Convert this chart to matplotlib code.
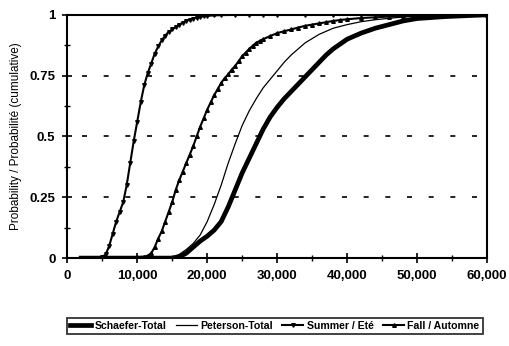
import matplotlib.pyplot as plt
from matplotlib.ticker import MultipleLocator, FuncFormatter

plt.rcParams['font.family'] = ['Liberation Sans', 'DejaVu Sans']

# Cumulative probability curves (x in units, y = cumulative probability)
schaefer_x = [2000, 15000, 16000, 17000, 18000, 19000, 20000, 21000, 22000, 23000,
              24000, 25000, 26000, 27000, 28000, 29000, 30000, 31000, 32000, 33000,
              34000, 35000, 36000, 37000, 38000, 39000, 40000, 42000, 44000, 46000,
              48000, 50000, 54000, 58000, 60000]
schaefer_p = [0.0, 0.0, 0.005, 0.02, 0.045, 0.07, 0.09, 0.115, 0.15, 0.21,
              0.28, 0.35, 0.41, 0.47, 0.53, 0.58, 0.62, 0.655, 0.685, 0.715,
              0.745, 0.775, 0.805, 0.835, 0.86, 0.88, 0.90, 0.925, 0.945, 0.96,
              0.975, 0.985, 0.993, 0.998, 1.0]

peterson_x = [2000, 14000, 15000, 16000, 17000, 18000, 19000, 20000, 21000, 22000,
              23000, 24000, 25000, 26000, 27000, 28000, 29000, 30000, 31000, 32000,
              34000, 36000, 38000, 40000, 42000, 44000, 46000, 48000, 50000, 54000,
              60000]
peterson_p = [0.0, 0.0, 0.005, 0.015, 0.035, 0.06, 0.095, 0.15, 0.22, 0.30,
              0.39, 0.47, 0.545, 0.605, 0.655, 0.70, 0.735, 0.77, 0.805, 0.835,
              0.885, 0.92, 0.945, 0.96, 0.972, 0.98, 0.986, 0.991, 0.995, 0.998,
              1.0]

summer_x = [2000, 2500, 3000, 3500, 4000, 4500, 5000, 5500, 6000, 6500,
            7000, 7500, 8000, 8500, 9000, 9500, 10000, 10500, 11000, 11500,
            12000, 12500, 13000, 13500, 14000, 14500, 15000, 15500, 16000, 16500,
            17000, 17500, 18000, 18500, 19000, 19500, 20000, 21000, 22000, 24000,
            26000, 28000, 30000, 34000, 38000, 42000, 46000, 50000, 55000, 60000]
summer_p = [0.0, 0.0, 0.0, 0.0, 0.0, 0.002, 0.005, 0.015, 0.05, 0.10,
            0.15, 0.19, 0.23, 0.30, 0.39, 0.48, 0.56, 0.64, 0.71, 0.76,
            0.80, 0.84, 0.87, 0.895, 0.915, 0.93, 0.94, 0.95, 0.96, 0.968,
            0.975, 0.98, 0.985, 0.989, 0.992, 0.994, 0.996, 0.998, 0.999, 1.0,
            1.0, 1.0, 1.0, 1.0, 1.0, 1.0, 1.0, 1.0, 1.0, 1.0]

fall_x = [2000, 4000, 6000, 8000, 10000, 11000, 11500, 12000, 12500, 13000,
          13500, 14000, 14500, 15000, 15500, 16000, 16500, 17000, 17500, 18000,
          18500, 19000, 19500, 20000, 20500, 21000, 21500, 22000, 22500, 23000,
          23500, 24000, 24500, 25000, 25500, 26000, 26500, 27000, 27500, 28000,
          29000, 30000, 31000, 32000, 33000, 34000, 35000, 36000, 37000, 38000,
          39000, 40000, 42000, 44000, 46000, 48000, 50000, 52000, 56000, 60000]
fall_p = [0.0, 0.0, 0.0, 0.002, 0.004, 0.006, 0.01, 0.02, 0.045, 0.08,
          0.11, 0.15, 0.19, 0.23, 0.28, 0.32, 0.355, 0.39, 0.425, 0.46,
          0.50, 0.54, 0.575, 0.61, 0.64, 0.67, 0.695, 0.72, 0.74, 0.755,
          0.775, 0.79, 0.81, 0.83, 0.845, 0.86, 0.873, 0.885, 0.893, 0.90,
          0.913, 0.925, 0.933, 0.94, 0.948, 0.955, 0.96, 0.965, 0.97, 0.975,
          0.979, 0.982, 0.987, 0.99, 0.993, 0.995, 0.997, 0.998, 1.0, 1.0]

fig = plt.figure(figsize=(5.09, 3.46), dpi=100)
ax = fig.add_axes([0.132, 0.254, 0.825, 0.703])

ax.plot(schaefer_x, schaefer_p, color='black', lw=3.4, label='Schaefer-Total')
ax.plot(peterson_x, peterson_p, color='black', lw=0.9, label='Peterson-Total')
ax.plot(summer_x, summer_p, color='black', lw=1.5, marker='v', ms=2.6,
        label='Summer / Eté')
ax.plot(fall_x, fall_p, color='black', lw=1.5, marker='^', ms=2.6,
        label='Fall / Automne')

ax.set_xlim(0, 60000)
ax.set_ylim(0, 1)

# dashed horizontal guides
for yv in [0.25, 0.5, 0.75]:
    ax.axhline(yv, color='black', lw=1.2, ls=(4, (3, 10)), zorder=0)

ax.xaxis.set_major_locator(MultipleLocator(10000))
ax.xaxis.set_minor_locator(MultipleLocator(5000))
ax.yaxis.set_major_locator(MultipleLocator(0.25))
ax.yaxis.set_minor_locator(MultipleLocator(0.125))
ax.xaxis.set_major_formatter(FuncFormatter(lambda v, p: f'{int(v):,}'))
ax.yaxis.set_major_formatter(FuncFormatter(lambda v, p: f'{v:g}'))

ax.tick_params(which='major', direction='inout', length=7, width=1.2,
               labelsize=9.5, pad=5)
ax.tick_params(which='minor', direction='inout', length=4, width=1.0)
for lbl in ax.get_xticklabels() + ax.get_yticklabels():
    lbl.set_fontweight('bold')

for s in ax.spines.values():
    s.set_linewidth(1.5)

ax.set_ylabel('Probability / Probabilité (cumulative)', fontsize=8.5, labelpad=5)

leg = fig.legend(loc='center', bbox_to_anchor=(0.54, 0.058), ncol=4,
                 prop={'size': 7.6, 'weight': 'bold'}, frameon=True,
                 fancybox=False, edgecolor='black', handlelength=2.0,
                 handletextpad=0.3, columnspacing=0.9, borderpad=0.3)
leg.get_frame().set_linewidth(1.3)

fig.savefig('out.png', dpi=100)
